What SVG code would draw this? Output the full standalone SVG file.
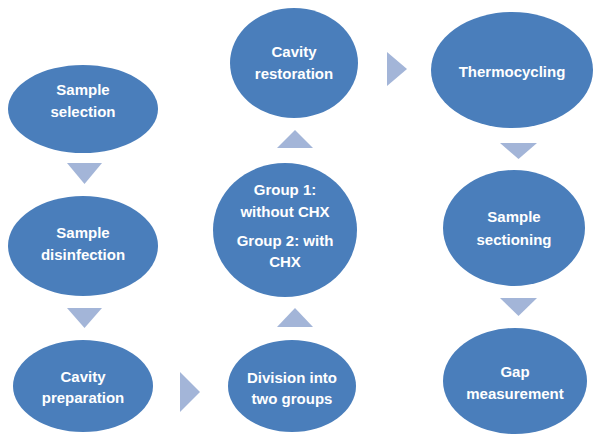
<svg xmlns="http://www.w3.org/2000/svg" width="593" height="435" viewBox="0 0 593 435">
<style>
.node{fill:#4a7ebb;}
.lbl{fill:#ffffff;font-family:"Liberation Sans",Arial,sans-serif;font-weight:bold;font-size:15px;text-anchor:middle;}
.arr{fill:#a3b5d8;}
</style>
<rect width="593" height="435" fill="#ffffff"/>
<g id="connectors">
<polygon class="arr" points="67,163 102,163 84.5,184"/>
<polygon class="arr" points="67,308 102,308 84.5,328"/>
<polygon class="arr" points="180,372 200,392 180,412"/>
<polygon class="arr" points="277,327 313,327 295,308"/>
<polygon class="arr" points="277,148 313,148 295,130"/>
<polygon class="arr" points="387,52 407,69 387,86"/>
<polygon class="arr" points="500,143 537,143 518.5,159"/>
<polygon class="arr" points="500,298 537,298 518.5,316"/>
</g>
<g id="sample-selection"><ellipse class="node" cx="83" cy="109" rx="75" ry="44"/><text class="lbl" x="83" y="95">Sample</text><text class="lbl" x="83" y="117">selection</text></g>
<g id="sample-disinfection"><ellipse class="node" cx="83" cy="246" rx="75" ry="50"/><text class="lbl" x="83" y="238">Sample</text><text class="lbl" x="83" y="260">disinfection</text></g>
<g id="cavity-preparation"><ellipse class="node" cx="83" cy="386" rx="70" ry="46"/><text class="lbl" x="83" y="382">Cavity</text><text class="lbl" x="83" y="403">preparation</text></g>
<g id="cavity-restoration"><ellipse class="node" cx="294" cy="63" rx="64" ry="55"/><text class="lbl" x="294" y="57">Cavity</text><text class="lbl" x="294" y="79">restoration</text></g>
<g id="groups"><ellipse class="node" cx="285" cy="230" rx="72" ry="67"/><text class="lbl" x="285" y="195">Group 1:</text><text class="lbl" x="285" y="217">without CHX</text><text class="lbl" x="285" y="246">Group 2: with</text><text class="lbl" x="285" y="267">CHX</text></g>
<g id="division"><ellipse class="node" cx="292" cy="386" rx="64" ry="46"/><text class="lbl" x="292" y="383">Division into</text><text class="lbl" x="292" y="404">two groups</text></g>
<g id="thermocycling"><ellipse class="node" cx="512" cy="70" rx="81" ry="58"/><text class="lbl" x="512" y="77">Thermocycling</text></g>
<g id="sample-sectioning"><ellipse class="node" cx="514" cy="228" rx="71" ry="58"/><text class="lbl" x="514" y="222">Sample</text><text class="lbl" x="514" y="245">sectioning</text></g>
<g id="gap-measurement"><ellipse class="node" cx="515" cy="381" rx="72" ry="53"/><text class="lbl" x="515" y="377">Gap</text><text class="lbl" x="515" y="399">measurement</text></g>
</svg>
